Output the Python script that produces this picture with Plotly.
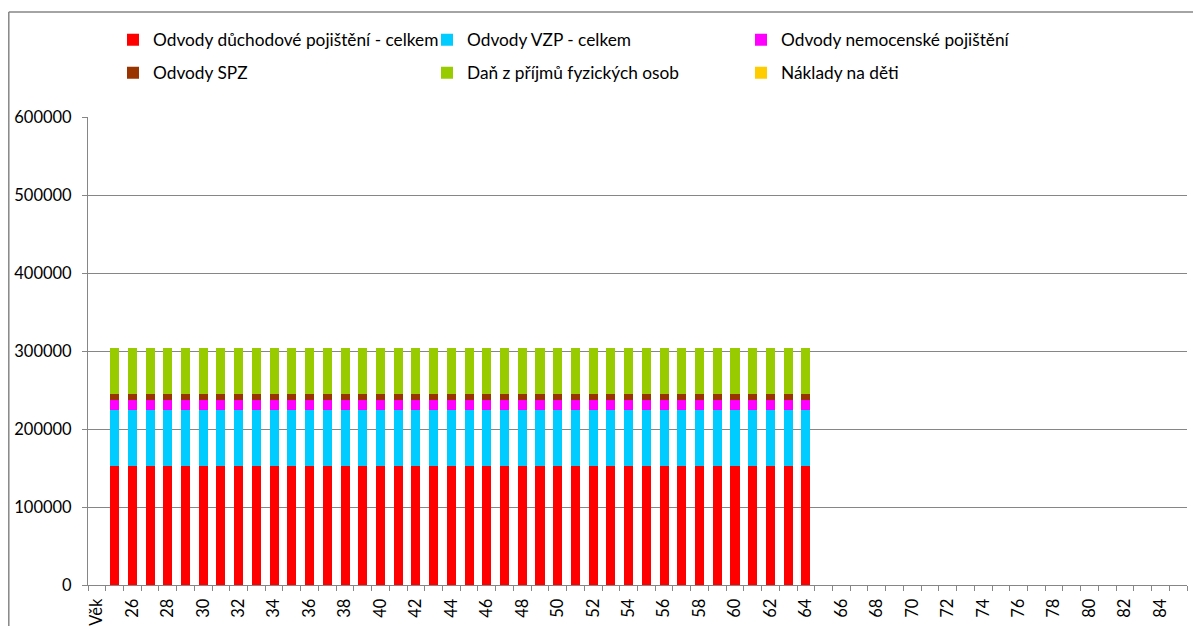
import plotly.graph_objects as go

categories = ["Věk"] + [str(a) for a in range(25, 86)]
ages = [str(a) for a in range(25, 65)]

duchodove = [152500, 152500, 152500, 152500, 152500, 152500, 152500, 152500, 152500, 152500,
             152500, 152500, 152500, 152500, 152500, 152500, 152500, 152500, 152500, 152500,
             152500, 152500, 152500, 152500, 152500, 152500, 152500, 152500, 152500, 152500,
             152500, 152500, 152500, 152500, 152500, 152500, 152500, 152500, 152500, 152500]
vzp = [72500, 72500, 72500, 72500, 72500, 72500, 72500, 72500, 72500, 72500,
       72500, 72500, 72500, 72500, 72500, 72500, 72500, 72500, 72500, 72500,
       72500, 72500, 72500, 72500, 72500, 72500, 72500, 72500, 72500, 72500,
       72500, 72500, 72500, 72500, 72500, 72500, 72500, 72500, 72500, 72500]
nemocenske = [12500, 12500, 12500, 12500, 12500, 12500, 12500, 12500, 12500, 12500,
              12500, 12500, 12500, 12500, 12500, 12500, 12500, 12500, 12500, 12500,
              12500, 12500, 12500, 12500, 12500, 12500, 12500, 12500, 12500, 12500,
              12500, 12500, 12500, 12500, 12500, 12500, 12500, 12500, 12500, 12500]
spz = [7200, 7200, 7200, 7200, 7200, 7200, 7200, 7200, 7200, 7200,
       7200, 7200, 7200, 7200, 7200, 7200, 7200, 7200, 7200, 7200,
       7200, 7200, 7200, 7200, 7200, 7200, 7200, 7200, 7200, 7200,
       7200, 7200, 7200, 7200, 7200, 7200, 7200, 7200, 7200, 7200]
dan = [59300, 59300, 59300, 59300, 59300, 59300, 59300, 59300, 59300, 59300,
       59300, 59300, 59300, 59300, 59300, 59300, 59300, 59300, 59300, 59300,
       59300, 59300, 59300, 59300, 59300, 59300, 59300, 59300, 59300, 59300,
       59300, 59300, 59300, 59300, 59300, 59300, 59300, 59300, 59300, 59300]
deti = [0, 0, 0, 0, 0, 0, 0, 0, 0, 0,
        0, 0, 0, 0, 0, 0, 0, 0, 0, 0,
        0, 0, 0, 0, 0, 0, 0, 0, 0, 0,
        0, 0, 0, 0, 0, 0, 0, 0, 0, 0]

series = [
    ("Odvody důchodové pojištění - celkem", duchodove, "#FF0000", "legend"),
    ("Odvody VZP - celkem", vzp, "#00CCFF", "legend"),
    ("Odvody nemocenské pojištění", nemocenske, "#FF00FF", "legend"),
    ("Odvody SPZ", spz, "#993300", "legend2"),
    ("Daň z příjmů fyzických osob", dan, "#99CC00", "legend2"),
    ("Náklady na děti", deti, "#FFCC00", "legend2"),
]

tick_text = [c if (i % 2 == 0) else "" for i, c in enumerate(categories)]

fig = go.Figure()
for name, vals, color, lg in series:
    fig.add_trace(go.Bar(x=ages, y=vals, name=name, marker_color=color,
                         marker_line_width=0, legend=lg))

W, H = 1193, 626
L, R, T, B = 88, 6, 117, 41
pw, ph = W - L - R, H - T - B

def px_x(p):
    return (p - L) / pw

def px_y(p):
    return (H - B - p) / ph

legend_font = dict(family="Lato", size=17.3, color="#000000")
legend_common = dict(orientation="h", xanchor="left", yanchor="middle",
                     font=legend_font, entrywidth=269, entrywidthmode="pixels",
                     bgcolor="rgba(0,0,0,0)", itemclick=False, traceorder="normal")

tfont = dict(family="Lato", size=16.5, color="#000000")
frame = dict(color="#868686", width=1.5)

fig.update_layout(
    width=W, height=H,
    margin=dict(l=L, r=R, t=T, b=B, autoexpand=False),
    paper_bgcolor="white", plot_bgcolor="white",
    barmode="stack", bargap=0.49,
    showlegend=True,
    legend=dict(x=px_x(113), y=px_y(40), **legend_common),
    legend2=dict(x=px_x(113), y=px_y(73), **legend_common),
    font=tfont,
    xaxis=dict(type="category", categoryorder="array", categoryarray=categories,
               range=[-0.5, len(categories) - 0.5], automargin=False,
               tickmode="array", tickvals=categories, ticktext=tick_text,
               tickangle=-90, tickson="boundaries", ticks="outside", ticklen=5,
               ticklabelstandoff=6,
               tickcolor="#868686", showline=True, linecolor="#868686", linewidth=1,
               showgrid=False, tickfont=tfont),
    yaxis=dict(range=[0, 600000], dtick=100000, tickformat="d", automargin=False,
               ticks="outside", ticklen=5, tickcolor="#868686",
               ticklabelstandoff=7,
               showline=True, linecolor="#868686", linewidth=1,
               showgrid=True, gridcolor="#868686", gridwidth=1,
               zeroline=False, tickfont=tfont),
    shapes=[
        dict(type="line", xref="paper", yref="paper",
             x0=px_x(8.8), x1=px_x(W), y0=px_y(12), y1=px_y(12), line=frame),
        dict(type="line", xref="paper", yref="paper",
             x0=px_x(8.8), x1=px_x(8.8), y0=px_y(12), y1=px_y(H), line=frame),
    ],
)

fig.write_html(
    "out.html",
    config={"displayModeBar": False},
    post_script="document.body.style.margin='0';"
                "document.documentElement.style.overflow='hidden';"
                "document.body.style.overflow='hidden';",
)
